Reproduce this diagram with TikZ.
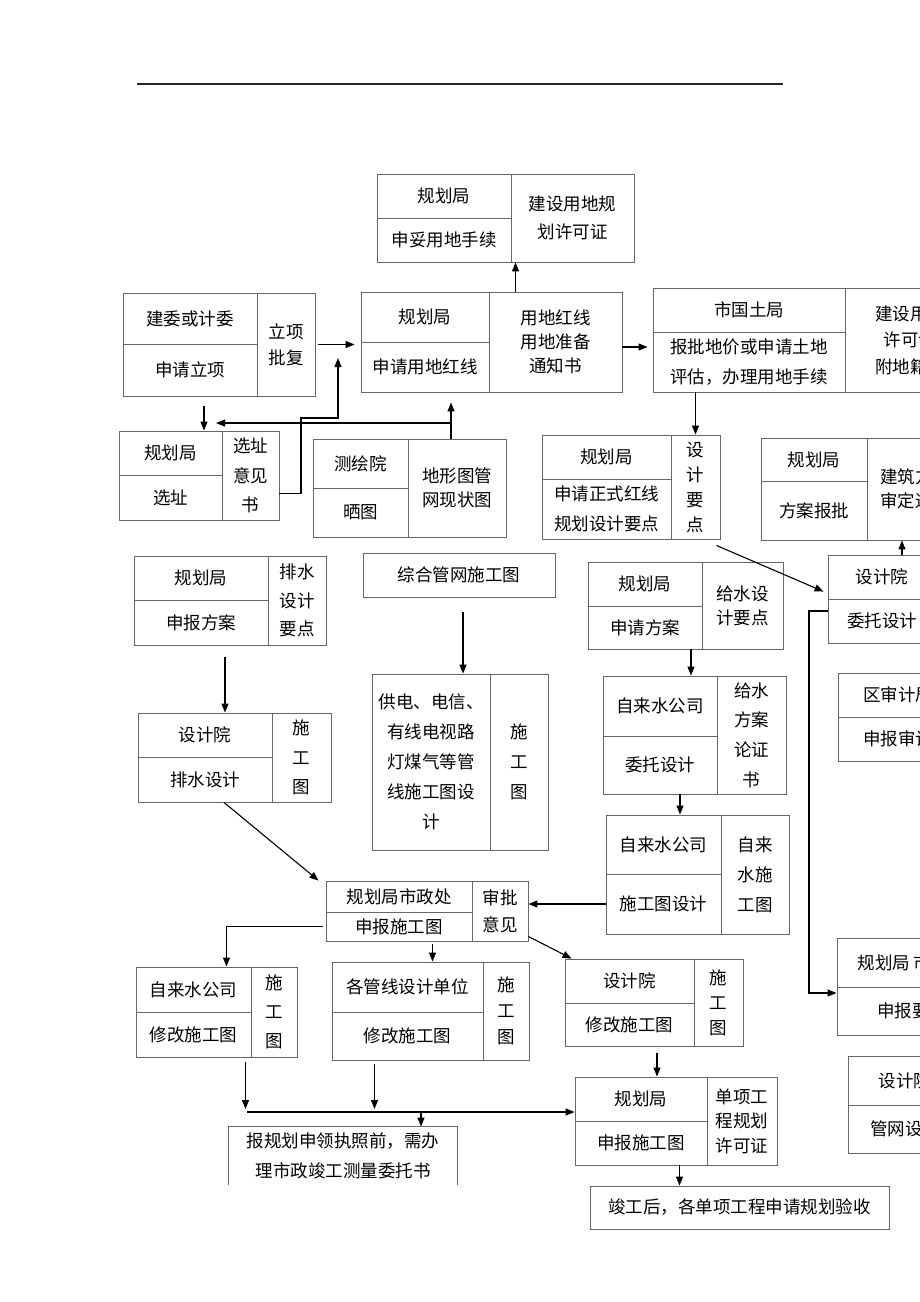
\documentclass[tikz,border=0pt]{standalone}
\usepackage{fontspec}
\setmainfont{Noto Sans CJK SC}
\usetikzlibrary{arrows.meta,calc}
\tikzset{
  cell/.style={draw=black!60, line width=0.9pt, inner sep=0pt, align=center,
    font=\fontsize{17.5}{24}\selectfont},
  tall/.style={font=\fontsize{17.5}{29.5}\selectfont},
  sz/.style 2 args={minimum width=#1, minimum height=#2},
  arr/.style={-{Triangle[length=9pt,width=7pt]}, line width=1.1pt},
  boxline/.style={draw=black!60, line width=0.9pt}
}
\begin{document}
\begin{tikzpicture}[x=1pt,y=-1pt]
\useasboundingbox (0,0) rectangle (920,1302);
\clip (0,0) rectangle (920,1302);
\draw[line width=1.3pt, black!85] (137,84) -- (783,84);

% top row
\node[cell, sz={134}{44}] (A1) at (444,196) {规划局};
\node[cell, sz={134}{44}] (A2) at (444,240) {申妥用地手续};
\node[cell, sz={123}{88}, font=\fontsize{17.5}{28}\selectfont] (A3) at (572.5,218) {建设用地规\\划许可证};

\node[cell, sz={134}{51}] (B1) at (190,318.5) {建委或计委};
\node[cell, sz={134}{52}] (B2) at (190,370) {申请立项};
\node[cell, sz={58}{103}, font=\fontsize{17.5}{26}\selectfont] (B3) at (286,344.5) {立项\\批复};

\node[cell, sz={128}{50}] (C1) at (425,317) {规划局};
\node[cell, sz={128}{50}] (C2) at (425,367) {申请用地红线};
\node[cell, sz={133}{100}] (C3) at (555.5,342) {用地红线\\用地准备\\通知书};

\node[cell, sz={192}{44}] (D1) at (749,310) {市国土局};
\node[cell, sz={192}{60}, tall] (D2) at (749,362) {报批地价或申请土地\\评估，办理用地手续};
\node[cell, sz={130}{104}, font=\fontsize{17.5}{26.5}\selectfont] (D3) at (910,340) {建设用地\\许可证\\附地籍图};

% second row
\node[cell, sz={103}{44}] (E1) at (170.5,453) {规划局};
\node[cell, sz={103}{45}] (E2) at (170.5,497.5) {选址};
\node[cell, sz={57}{89}, tall] (E3) at (250.5,475.5) {选址\\意见\\书};

\node[cell, sz={95}{49}] (F1) at (360.5,463.5) {测绘院};
\node[cell, sz={95}{49}] (F2) at (360.5,512.5) {晒图};
\node[cell, sz={98}{98}] (F3) at (457,488) {地形图管\\网现状图};

\node[cell, sz={129}{44}] (G1) at (606.5,457) {规划局};
\node[cell, sz={129}{60}, font=\fontsize{17.5}{30}\selectfont] (G2) at (606.5,509) {申请正式红线\\规划设计要点};
\node[cell, sz={49}{104}, font=\fontsize{17.5}{25}\selectfont] (G3) at (695.5,487) {设\\计\\要\\点};

\node[cell, sz={106}{43}] (H1) at (814,459.5) {规划局};
\node[cell, sz={106}{59}] (H2) at (814,510.5) {方案报批};
\node[cell, sz={96}{102}] (H3) at (915,489) {建筑方案\\审定通知};

% right column
\node[cell, sz={108}{44}] (I1) at (882,577) {设计院};
\node[cell, sz={108}{44}] (I2) at (882,621) {委托设计};
\node[cell, sz={120}{44}] (J1) at (898,695) {区审计局};
\node[cell, sz={120}{44}] (J2) at (898,739) {申报审计};
\node[cell, sz={150}{49}] (K1) at (912,962.5) {规划局 市政处};
\node[cell, sz={150}{48}] (K2) at (912,1011) {申报要点};
\node[cell, sz={114}{49}] (L1) at (905,1080.5) {设计院};
\node[cell, sz={114}{48}] (L2) at (905,1129) {管网设计};

% middle
\node[cell, sz={134}{44}] (M1) at (201,578) {规划局};
\node[cell, sz={134}{45}] (M2) at (201,622.5) {申报方案};
\node[cell, sz={58}{89}, font=\fontsize{17.5}{28.5}\selectfont] (M3) at (297,600.5) {排水\\设计\\要点};

\node[cell, sz={134}{44}] (N1) at (205,735) {设计院};
\node[cell, sz={134}{45}] (N2) at (205,779.5) {排水设计};
\node[cell, sz={59}{89}, tall] (N3) at (301.5,757.5) {施\\工\\图};

\node[cell, sz={192}{44}] (O) at (459,575) {综合管网施工图};
\node[cell, sz={118}{176}, font=\fontsize{17.5}{30}\selectfont] (P1) at (431,762) {供电、电信、\\有线电视路\\灯煤气等管\\线施工图设\\计};
\node[cell, sz={58}{176}, font=\fontsize{17.5}{30}\selectfont] (P2) at (519,762) {施\\工\\图};

\node[cell, sz={114}{44}] (Q1) at (645,584) {规划局};
\node[cell, sz={114}{43}] (Q2) at (645,627.5) {申请方案};
\node[cell, sz={81}{87}] (Q3) at (742.5,605.5) {给水设\\计要点};

\node[cell, sz={114}{60}] (R1) at (660,706) {自来水公司};
\node[cell, sz={114}{58}] (R2) at (660,765) {委托设计};
\node[cell, sz={69}{118}, font=\fontsize{17.5}{29.7}\selectfont] (R3) at (751.5,735) {给水\\方案\\论证\\书};

\node[cell, sz={115}{59}] (S1) at (663.5,844.5) {自来水公司};
\node[cell, sz={115}{60}] (S2) at (663.5,904) {施工图设计};
\node[cell, sz={68}{119}, font=\fontsize{17.5}{30}\selectfont] (S3) at (755,874.5) {自来\\水施\\工图};

% lower part
\node[cell, sz={146}{31}] (T1) at (399,896.5) {规划局市政处};
\node[cell, sz={146}{29}] (T2) at (399,926.5) {申报施工图};
\node[cell, sz={56}{60}, font=\fontsize{17.5}{27}\selectfont] (T3) at (500,911) {审批\\意见};

\node[cell, sz={115}{45}] (U1) at (193.5,989.5) {自来水公司};
\node[cell, sz={115}{45}] (U2) at (193.5,1034.5) {修改施工图};
\node[cell, sz={46}{90}, font=\fontsize{17.5}{29}\selectfont] (U3) at (274,1012) {施\\工\\图};

\node[cell, sz={151}{50}] (V1) at (407.5,987) {各管线设计单位};
\node[cell, sz={151}{48}] (V2) at (407.5,1036) {修改施工图};
\node[cell, sz={46}{98}, font=\fontsize{17.5}{26}\selectfont] (V3) at (506,1011) {施\\工\\图};

\node[cell, sz={129}{44}] (W1) at (629.5,981) {设计院};
\node[cell, sz={129}{43}] (W2) at (629.5,1024.5) {修改施工图};
\node[cell, sz={49}{87}, font=\fontsize{17.5}{25}\selectfont] (W3) at (718.5,1002.5) {施\\工\\图};

\node[cell, sz={132}{44}] (X1) at (641,1099) {规划局};
\node[cell, sz={132}{44}] (X2) at (641,1143) {申报施工图};
\node[cell, sz={70}{88}, font=\fontsize{17.5}{24.5}\selectfont] (X3) at (742,1121) {单项工\\程规划\\许可证};

\node[cell, draw=none, sz={228}{58}, font=\fontsize{17.5}{30}\selectfont] (Y) at (343,1156) {报规划申领执照前，需办\\理市政竣工测量委托书};
\draw[boxline] (Y.south west) |- (Y.north east) -- (Y.south east);
\node[cell, sz={299}{43}] (Z) at (739.5,1207.5) {竣工后，各单项工程申请规划验收};

% junctions
\coordinate (fc) at (451,423);
\coordinate (fe) at (216,423);
\coordinate (ej) at (301,418);
\coordinate (eb) at (338,358);
\coordinate (ik) at (809,993);
\coordinate (bl) at (247,1112);

% connectors
\draw[arr, shorten <=3, shorten >=6] (B3.east) -- (B3.east -| C1.west);
\draw[arr] ([xshift=27]C3.north west) -- ([xshift=5]A3.south west);
\draw[arr, shorten >=5] ([yshift=-5]C3.east) -- ([yshift=-5]C3.east -| D1.west);
\draw[arr] (G3.north |- D2.south) -- (G3.north);
\draw[arr, shorten <=10] ([xshift=14]B2.south) -- ([xshift=14]B2.south |- E1.north);
\draw[arr, shorten >=10] ([xshift=-6]F3.north) -- ([xshift=-6]F3.north |- C2.south);
\draw[arr] (fc) -- (fe);
\draw[arr] ([yshift=-18]E3.east) -| (ej) -| (eb);
\draw[arr] ([shift={(-4,6)}]G3.south east) -- ([shift={(-4,-7)}]I2.north west);
\draw[arr] ([xshift=20]I1.north) -- ([xshift=20]I1.north |- H2.south);
\draw[arr] ([shift={(0,-10)}]I2.west) -| (ik) -- (ik -| K2.west);
\draw[arr, shorten <=12] ([xshift=24]M2.south) -- ([xshift=20]N1.north);
\draw[arr, shorten <=15] ([xshift=4]O.south) -- ([xshift=4]O.south |- P1.north);
\draw[arr] ([xshift=31]R1.north |- Q2.south) -- ([xshift=31]R1.north);
\draw[arr] ([xshift=20]R2.south) -- ([xshift=16.5]S1.north);
\draw[arr] ([xshift=19]N2.south) -- ([xshift=-7]T1.north west);
\draw[arr] (S2.west) -- (S2.west -| T3.east);
\draw[arr, shorten <=3] (T2.west) -| ([xshift=33]U1.north);
\draw[arr, shorten <=3] ([xshift=25]V1.north |- T2.south) -- ([xshift=25]V1.north);
\draw[arr] ([yshift=5]T3.south east) -- ([xshift=7]W1.north west);
\draw[arr, shorten <=7] ([xshift=16]X1.north |- W2.south) -- ([xshift=16]X1.north);
\draw[arr] ([xshift=-60]Z.north |- X2.south) -- ([xshift=-60]Z.north);
\draw[arr, shorten <=5, shorten >=3] ([xshift=52]U2.south) -- ([xshift=52]U2.south |- bl);
\draw[arr, shorten <=4, shorten >=3] ([xshift=-33]V2.south) -- ([xshift=-33]V2.south |- bl);
\draw[arr] (bl) -- (bl -| X1.west);
\draw[arr] ([xshift=78]Y.north |- bl) -- ([xshift=78]Y.north);
\end{tikzpicture}
\end{document}
